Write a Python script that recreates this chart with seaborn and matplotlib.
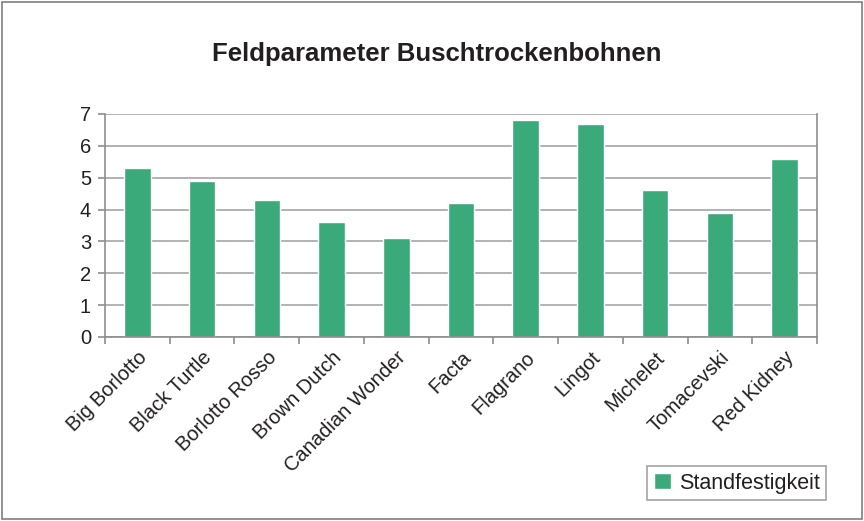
import pandas as pd
import matplotlib.pyplot as plt
import seaborn as sns

# Bean varieties and their stability score
sorten = ["Big Borlotto", "Black Turtle", "Borlotto Rosso", "Brown Dutch",
          "Canadian Wonder", "Facta", "Flagrano", "Lingot", "Michelet",
          "Tomacevski", "Red Kidney"]
standfestigkeit = [5.3, 4.9, 4.3, 3.6, 3.1, 4.2, 6.8, 6.7, 4.6, 3.9, 5.6]

df = pd.DataFrame({"Sorte": sorten, "Standfestigkeit": standfestigkeit})

sns.set_style("white")
plt.rcParams["font.family"] = ["Liberation Sans", "DejaVu Sans"]

fig = plt.figure(figsize=(8.64, 5.21), dpi=100)
ax = fig.add_axes([0.1215, 0.3532, 0.8241, 0.428])

sns.barplot(data=df, x="Sorte", y="Standfestigkeit", color="#3aaa7b",
            saturation=1, width=0.41, label="Standfestigkeit", ax=ax)

ax.set_ylim(0, 7)
ax.set_xlim(-0.5, len(sorten) - 0.5)
ax.set_yticks(range(0, 8))
ax.yaxis.grid(True, color="#a6a6a6", linewidth=1.2)
ax.set_axisbelow(True)
ax.set_xlabel("")
ax.set_ylabel("")

for side in ["left", "bottom", "right"]:
    ax.spines[side].set_visible(True)
    ax.spines[side].set_color("#8c8c8c")
    ax.spines[side].set_linewidth(1.2)
ax.spines["top"].set_visible(False)

# ticks between the categories, like the spreadsheet chart
ax.set_xticks([i - 0.5 for i in range(len(sorten) + 1)], minor=True)
ax.set_xticks(range(len(sorten)))
ax.set_xticklabels(sorten, rotation=45, ha="right", rotation_mode="anchor",
                   fontsize=14.5, color="#231f20")
ax.tick_params(axis="x", which="major", length=0, pad=8)
ax.tick_params(axis="x", which="minor", length=5, color="#8c8c8c", width=1.2,
               direction="out", bottom=True)
ax.tick_params(axis="y", length=5, color="#8c8c8c", width=1.2, direction="out",
               left=True, labelsize=14.5, labelcolor="#231f20", pad=5)

fig.text(0.505, 0.897, "Feldparameter Buschtrockenbohnen", ha="center",
         va="center", fontsize=18.5, fontweight="bold", color="#231f20")

leg = ax.legend(loc="lower right", bbox_to_anchor=(0.956, 0.04),
                bbox_transform=fig.transFigure, fontsize=15.5, frameon=True,
                fancybox=False, handlelength=0.8, handleheight=0.8,
                handletextpad=0.35, borderpad=0.3, borderaxespad=0)
leg.get_frame().set_edgecolor("#8c8c8c")
leg.get_frame().set_linewidth(1.2)
for t in leg.get_texts():
    t.set_color("#231f20")

# outer chart frame
fig.patches.append(plt.Rectangle((0.002, 0.003), 0.996, 0.994,
                                 transform=fig.transFigure, fill=False,
                                 edgecolor="#7f7f7f", linewidth=1.2))

fig.savefig("out.png", dpi=100)
